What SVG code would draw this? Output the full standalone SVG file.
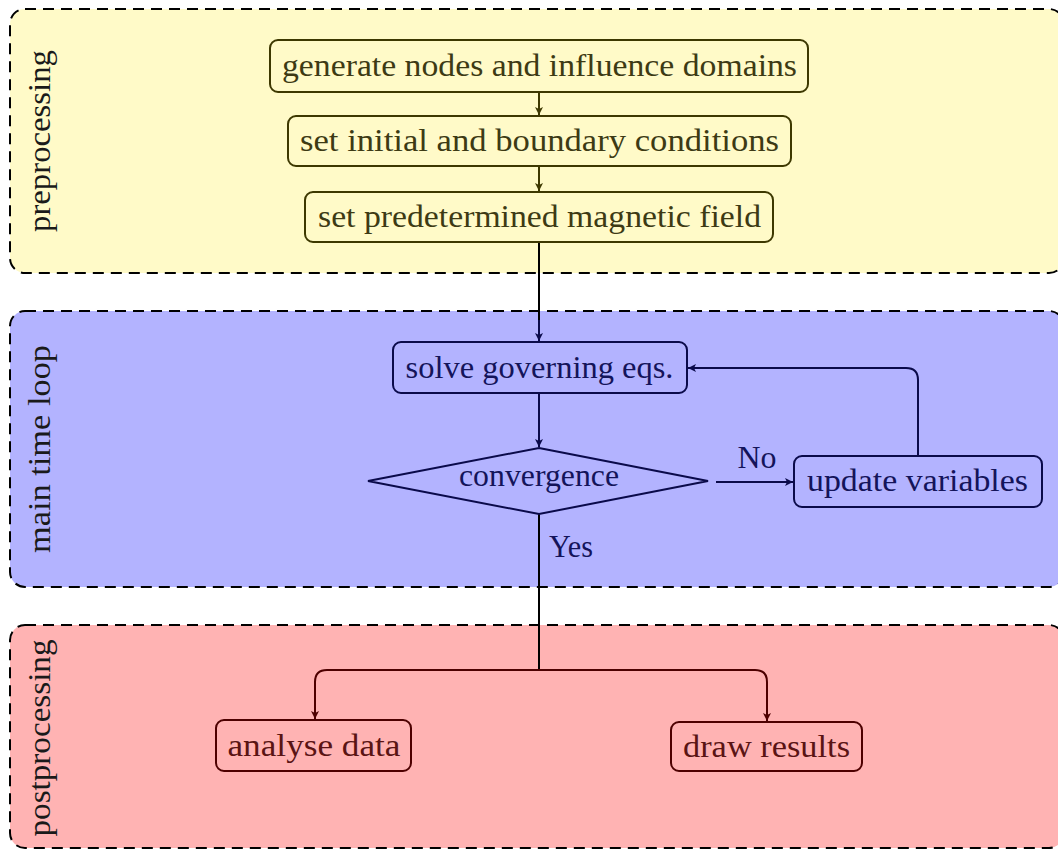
<svg xmlns="http://www.w3.org/2000/svg" width="1058" height="850" viewBox="0 0 1058 850">
<style>
  text { font-family: "Liberation Serif", "Times New Roman", Times, serif; font-size: 31px; }
  .grp { stroke: #000; stroke-width: 2; stroke-dasharray: 11 7; }
  .pre { fill: #fffac8; }
  .main { fill: #b3b3ff; }
  .post { fill: #ffb3b3; }
  .ny { fill: #fffac8; stroke: #3d3800; stroke-width: 2; }
  .nb { fill: #b3b3ff; stroke: #0a0a4a; stroke-width: 2; }
  .nr { fill: #ffb3b3; stroke: #4d0000; stroke-width: 2; }
  .ty { fill: #3d3a14; }
  .tb { fill: #14145a; }
  .tr { fill: #5a1414; }
  .tg { fill: #1a1a1a; }
  .ey { fill: none; stroke: #3d3800; stroke-width: 2; }
  .eb { fill: none; stroke: #0a0a4a; stroke-width: 2; }
  .er { fill: none; stroke: #4d0000; stroke-width: 2; }
  .ek { fill: none; stroke: #000; stroke-width: 2; }
</style>
<defs>
  <marker id="ay" markerUnits="userSpaceOnUse" markerWidth="12" markerHeight="10" refX="9" refY="5" orient="auto" viewBox="0 0 12 10">
    <path d="M9,5 L1,1 L3,5 L1,9 Z" fill="#3d3800"/>
  </marker>
  <marker id="ab" markerUnits="userSpaceOnUse" markerWidth="12" markerHeight="10" refX="9" refY="5" orient="auto" viewBox="0 0 12 10">
    <path d="M9,5 L1,1 L3,5 L1,9 Z" fill="#0a0a4a"/>
  </marker>
  <marker id="ar" markerUnits="userSpaceOnUse" markerWidth="12" markerHeight="10" refX="9" refY="5" orient="auto" viewBox="0 0 12 10">
    <path d="M9,5 L1,1 L3,5 L1,9 Z" fill="#4d0000"/>
  </marker>
</defs>

<g id="group-preprocessing">
  <rect class="grp pre" x="10" y="9" width="1054" height="264" rx="15"/>
  <text class="tg" font-family="Liberation Serif, serif" transform="translate(50,141) rotate(-90)" text-anchor="middle" textLength="182" lengthAdjust="spacingAndGlyphs">preprocessing</text>
</g>
<g id="group-main">
  <rect class="grp main" x="10" y="311" width="1054" height="276" rx="15"/>
  <text class="tg" font-family="Liberation Serif, serif" transform="translate(50,449) rotate(-90)" text-anchor="middle" textLength="208" lengthAdjust="spacingAndGlyphs">main time loop</text>
</g>
<g id="group-post">
  <rect class="grp post" x="10" y="625" width="1054" height="223" rx="15"/>
  <text class="tg" font-family="Liberation Serif, serif" transform="translate(50,738) rotate(-90)" text-anchor="middle" textLength="197" lengthAdjust="spacingAndGlyphs">postprocessing</text>
</g>

<g id="connectors">
  <path class="ey" d="M539,92 V115" marker-end="url(#ay)"/>
  <path class="ey" d="M539,166 V191" marker-end="url(#ay)"/>
  <path class="ek" d="M539,242 V320"/>
  <path class="eb" d="M539,320 V341" marker-end="url(#ab)"/>
  <path class="eb" d="M539,393 V447" marker-end="url(#ab)"/>
  <path class="eb" d="M716,482 H793" marker-end="url(#ab)"/>
  <path class="eb" d="M918,456 V380 Q918,368 906,368 H688" marker-end="url(#ab)"/>
  <path class="ek" d="M539,514 V670"/>
  <path class="er" d="M539,670 H327 Q315,670 315,682 V719" marker-end="url(#ar)"/>
  <path class="er" d="M539,670 H755 Q767,670 767,682 V721" marker-end="url(#ar)"/>
  <text class="tb" font-family="Liberation Serif, serif" x="757" y="468" text-anchor="middle" textLength="39" lengthAdjust="spacingAndGlyphs">No</text>
  <text class="tb" font-family="Liberation Serif, serif" x="549" y="557" textLength="44" lengthAdjust="spacingAndGlyphs">Yes</text>
</g>

<g id="node-generate">
  <rect class="ny" x="270" y="40" width="538" height="52" rx="8"/>
  <text class="ty" font-family="Liberation Serif, serif" x="539.5" y="76" text-anchor="middle" textLength="515" lengthAdjust="spacingAndGlyphs">generate nodes and influence domains</text>
</g>
<g id="node-initial">
  <rect class="ny" x="288" y="116" width="503" height="50" rx="8"/>
  <text class="ty" font-family="Liberation Serif, serif" x="539.5" y="151" text-anchor="middle" textLength="479" lengthAdjust="spacingAndGlyphs">set initial and boundary conditions</text>
</g>
<g id="node-magnetic">
  <rect class="ny" x="305" y="192" width="468" height="50" rx="8"/>
  <text class="ty" font-family="Liberation Serif, serif" x="539.5" y="227" text-anchor="middle" textLength="443" lengthAdjust="spacingAndGlyphs">set predetermined magnetic field</text>
</g>
<g id="node-solve">
  <rect class="nb" x="393" y="342" width="294" height="51" rx="8"/>
  <text class="tb" font-family="Liberation Serif, serif" x="539.5" y="378" text-anchor="middle" textLength="268" lengthAdjust="spacingAndGlyphs">solve governing eqs.</text>
</g>
<g id="node-convergence">
  <polygon class="nb" points="539,448 708,481 539,514 368,481"/>
  <text class="tb" font-family="Liberation Serif, serif" x="539" y="486" text-anchor="middle" textLength="160" lengthAdjust="spacingAndGlyphs">convergence</text>
</g>
<g id="node-update">
  <rect class="nb" x="794" y="456" width="248" height="51" rx="8"/>
  <text class="tb" font-family="Liberation Serif, serif" x="917.5" y="491" text-anchor="middle" textLength="221" lengthAdjust="spacingAndGlyphs">update variables</text>
</g>
<g id="node-analyse">
  <rect class="nr" x="216" y="720" width="195" height="51" rx="8"/>
  <text class="tr" font-family="Liberation Serif, serif" x="314" y="756" text-anchor="middle" textLength="173" lengthAdjust="spacingAndGlyphs">analyse data</text>
</g>
<g id="node-draw">
  <rect class="nr" x="671" y="722" width="191" height="49" rx="8"/>
  <text class="tr" font-family="Liberation Serif, serif" x="766.5" y="757" text-anchor="middle" textLength="167" lengthAdjust="spacingAndGlyphs">draw results</text>
</g>
</svg>
